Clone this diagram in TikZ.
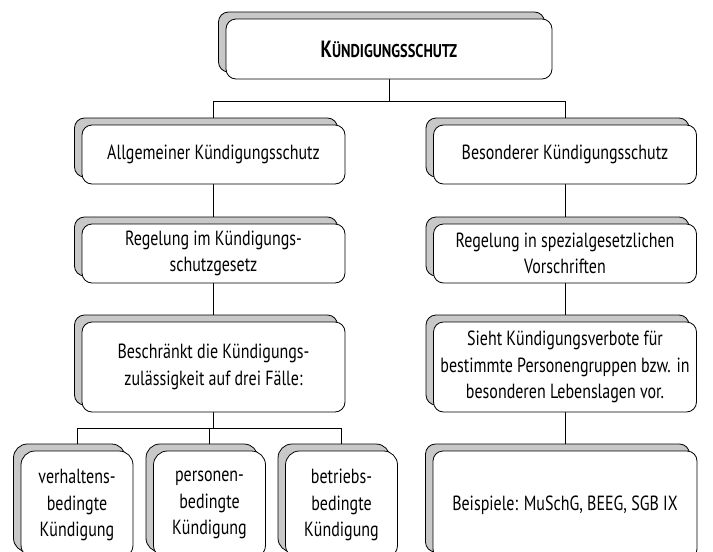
\documentclass[tikz,border=0pt]{standalone}
\usepackage{fontspec}
\setmainfont{PT Sans}[FakeStretch=0.78]
\usepackage{tikz}
\usetikzlibrary{shadows,positioning}
\pgfdeclarelayer{background}
\pgfsetlayers{background,main}
\definecolor{shadowgray}{RGB}{200,200,200}
\tikzstyle{box}=[draw,fill=white,rounded corners=10pt,line width=0.8pt,align=center,inner sep=0pt,
    font=\fontsize{20.5}{26.5}\selectfont,
    general shadow={shadow xshift=-7.5pt,shadow yshift=7pt,fill=shadowgray,draw=black,line width=0.8pt}]
\tikzstyle{colbox}=[box,minimum width=263pt,minimum height=59pt]
\tikzstyle{tallbox}=[box,minimum width=263pt,minimum height=90pt]
\tikzstyle{casebox}=[box,rounded corners=14pt,minimum width=112pt,minimum height=108pt]
\tikzstyle{edge} = [draw,line width=0.8pt,-]

\begin{document}
\begin{tikzpicture}[x=1pt,y=-1pt]
    \useasboundingbox (0,0) rectangle (713,552);
    \clip (0,0) rectangle (713,552);
    % The head box
    \node[box,minimum width=326pt,minimum height=60pt] (kschutz) at (389,49)
        {\bfseries{\fontsize{23.5}{26}\selectfont K}{\fontsize{18.5}{26}\selectfont ÜNDIGUNGSSCHUTZ}};
    % Left column
    \node[colbox] (allg) at (213.5,154.5) {Allgemeiner Kündigungsschutz};
    \node[colbox] (regl) at (213.5,253.5) {Regelung im Kündigungs-\\schutzgesetz};
    \node[tallbox] (beschr) at (213.5,367) {Beschränkt die Kündigungs-\\zulässigkeit auf drei Fälle:};
    % Right column
    \node[colbox] (bes) at (565,154.5) {Besonderer Kündigungsschutz};
    \node[colbox] (regr) at (565,253.5) {Regelung in spezialgesetzlichen\\Vorschriften};
    \node[tallbox] (sieht) at (565,367) {Sieht Kündigungsverbote für\\bestimmte Personengruppen bzw. in\\besonderen Lebenslagen vor.};
    \node[box,minimum width=264pt,minimum height=108pt] (beisp) at (565,505) {Beispiele: MuSchG, BEEG, SGB IX};
    % The three cases
    \foreach \name/\x/\txt in {verh/77/{verhaltens-\\bedingte\\Kündigung},
                               pers/209.5/{personen-\\bedingte\\Kündigung},
                               betr/341.5/{betriebs-\\bedingte\\Kündigung}}
        \node[casebox] (\name) at (\x,505) {\txt};
    % Connect boxes with edges
    \begin{pgfonlayer}{background}
        \path[edge] (kschutz.south) -- ++(0,22) -| (allg.north);
        \path[edge] (kschutz.south) -- ++(0,22) -| (bes.north);
        \foreach \source/ \dest in {allg/regl, regl/beschr, bes/regr, regr/sieht, sieht/beisp}
            \path[edge] (\source) -- (\dest);
        \foreach \dest in {verh, pers, betr}
            \path[edge] (beschr.south) -- ++(0,16) -| (\dest.north);
    \end{pgfonlayer}
\end{tikzpicture}
\end{document}
